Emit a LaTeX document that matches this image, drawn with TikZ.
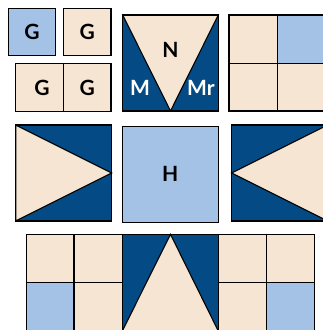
\documentclass[tikz,border=0pt]{standalone}
\usepackage{fontspec}
\setmainfont{Lato}
\definecolor{navy}{HTML}{044A84}
\definecolor{lblue}{HTML}{A4C2E6}
\definecolor{beige}{HTML}{F5E5D2}
\begin{document}
\begin{tikzpicture}[x=1pt,y=-1pt,
  edge/.style={draw=black,line width=1.1pt,line join=miter},
  lab/.style={font=\bfseries\fontsize{21}{21}\selectfont,text=black,inner sep=0pt},
  wlab/.style={font=\bfseries\fontsize{21}{21}\selectfont,text=white,inner sep=0pt}]
\useasboundingbox (0,0) rectangle (323,330);
% G squares
\filldraw[edge,fill=lblue] (8.3,8.3) rectangle (55.7,55.3);
\node[lab] (g1) at (32,32) {G};
\filldraw[edge,fill=beige] (63.3,8.3) rectangle (111,55.3);
\node[lab] (g2) at (87.2,32) {G};
\filldraw[edge,fill=beige] (15.7,63.3) rectangle (63.3,111.3);
\filldraw[edge,fill=beige] (63.3,63.3) rectangle (111,111.3);
\node[lab] (g3) at (42,88) {G};
\node[lab] (g4) at (87.2,88) {G};
% N block
\fill[navy] (122.7,15) rectangle (218.3,111);
\filldraw[edge,fill=beige] (122.7,15) -- (218.3,15) -- (170.5,111) -- cycle;
\draw[edge] (122.7,15) rectangle (218.3,111);
\node[lab] (n) at (170.5,50) {N};
\node[wlab] (m) at (140,88) {M};
\node[wlab] (mr) at (201,88) {Mr};
% top right four patch
\filldraw[edge,fill=beige] (229,15) rectangle (277.3,63.3);
\filldraw[edge,fill=lblue] (277.3,15) rectangle (325.6,63.3);
\filldraw[edge,fill=beige] (229,63.3) rectangle (277.3,111);
\filldraw[edge,fill=beige] (277.3,63.3) rectangle (325.6,111);
% middle left
\fill[navy] (15.7,125) rectangle (111.7,221);
\filldraw[edge,fill=beige] (15.7,125) -- (111.7,173) -- (15.7,221) -- cycle;
\draw[edge] (15.7,125) rectangle (111.7,221);
% H
\filldraw[edge,fill=lblue] (122.3,126.7) rectangle (218.3,222.3);
\node[lab] (h) at (170.3,173.5) {H};
% middle right
\fill[navy] (231.7,125) rectangle (327.7,221);
\filldraw[edge,fill=beige] (327.7,125) -- (231.7,173) -- (327.7,221) -- cycle;
\draw[edge] (231.7,125) rectangle (327.7,221);
% bottom row
\filldraw[edge,fill=beige] (26.7,234.3) rectangle (74,282.3);
\filldraw[edge,fill=beige] (74,234.3) rectangle (122.3,282.3);
\filldraw[edge,fill=lblue] (26.7,282.3) rectangle (74,331);
\filldraw[edge,fill=beige] (74,282.3) rectangle (122.3,331);
\fill[navy] (122.3,234.3) rectangle (218.3,331);
\filldraw[edge,fill=beige] (170.5,234.3) -- (218.3,331) -- (122.3,331) -- cycle;
\draw[edge] (122.3,234.3) rectangle (218.3,331);
\filldraw[edge,fill=beige] (218.3,234.3) rectangle (266.7,282.3);
\filldraw[edge,fill=beige] (266.7,234.3) rectangle (314.3,282.3);
\filldraw[edge,fill=beige] (218.3,282.3) rectangle (266.7,331);
\filldraw[edge,fill=lblue] (266.7,282.3) rectangle (314.3,331);
\end{tikzpicture}
\end{document}
